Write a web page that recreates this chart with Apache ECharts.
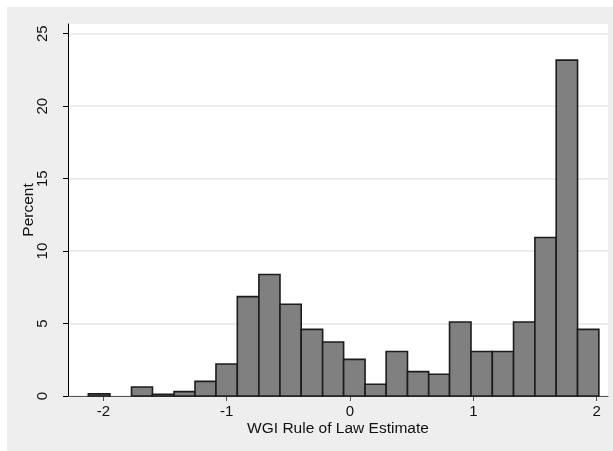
<!DOCTYPE html>
<html>
<head>
<meta charset="utf-8">
<script src="https://cdn.jsdelivr.net/npm/echarts@6/dist/echarts.min.js"></script>
<style>
    html, body { margin: 0; padding: 0; background: #fff; }
    #wrap { position: relative; width: 613px; height: 451px; }
    #panel { position: absolute; left: 7px; top: 7px; width: 606px; height: 444px; background: #eeeeee; }
    #chart { position: absolute; left: 0; top: 0; width: 613px; height: 451px; }
</style>
</head>
<body>
<div id="wrap">
    <div id="panel"></div>
    <div id="chart"></div>
</div>
<script>
    // bin edges (24 bins)
    const binEdges = [-2.122, -1.947, -1.772, -1.602, -1.427, -1.257, -1.087, -0.914, -0.739, -0.568, -0.396, -0.222,
        -0.052, 0.122, 0.293, 0.466, 0.638, 0.807, 0.981, 1.154, 1.326, 1.499, 1.672, 1.845, 2.018];
    const percents = [0.15, 0, 0.62, 0.12, 0.3, 1.01, 2.21, 6.86, 8.38, 6.33, 4.6, 3.73,
        2.53, 0.81, 3.07, 1.68, 1.5, 5.11, 3.07, 3.07, 5.11, 10.94, 23.18, 4.6];
    const xTicks = [-2, -1, 0, 1, 2];
    const yTicks = [0, 5, 10, 15, 20, 25];

    const bins = percents.map((p, i) => [binEdges[i], binEdges[i + 1], p]);

    const font = '"Liberation Sans", Arial, Helvetica, sans-serif';
    const chart = echarts.init(document.getElementById('chart'));

    chart.setOption({
        animation: false,
        grid: {
            left: 68, right: 5, top: 24, bottom: 55,
            show: true, backgroundColor: '#ffffff', borderWidth: 0
        },
        xAxis: {
            type: 'value',
            min: -2.287,
            max: 2.092,
            name: 'WGI Rule of Law Estimate',
            nameLocation: 'middle',
            nameGap: 25,
            nameMoveOverlap: false,
            nameTextStyle: { fontFamily: font, fontSize: 15.5, color: '#111' },
            axisLine: { onZero: false, lineStyle: { color: '#555', width: 1 } },
            axisTick: { length: 5, customValues: xTicks, lineStyle: { color: '#555' } },
            axisLabel: { customValues: xTicks, margin: 8, fontFamily: font, fontSize: 15, color: '#111' },
            splitLine: { show: false }
        },
        yAxis: {
            type: 'value',
            min: 0,
            max: 25.67,
            name: 'Percent',
            nameLocation: 'middle',
            nameGap: 31,
            nameMoveOverlap: false,
            nameTextStyle: { fontFamily: font, fontSize: 15.5, color: '#111' },
            axisLine: { show: true, onZero: false, lineStyle: { color: '#000', width: 1 } },
            axisTick: { show: true, length: 5, customValues: yTicks, lineStyle: { color: '#000' } },
            axisLabel: { customValues: yTicks, rotate: 90, margin: 18, fontFamily: font, fontSize: 15, color: '#111' },
            splitLine: { show: true, lineStyle: { color: '#e6e6e6', width: 1.5 } }
        },
        series: [{
            type: 'custom',
            data: bins,
            encode: { x: [0, 1], y: 2 },
            renderItem: function (params, api) {
                if (api.value(2) <= 0) return;
                const p0 = api.coord([api.value(0), api.value(2)]);
                const p1 = api.coord([api.value(1), 0]);
                return {
                    type: 'rect',
                    shape: { x: p0[0], y: p0[1], width: p1[0] - p0[0], height: p1[1] - p0[1] },
                    style: { fill: '#808080', stroke: '#1c1c1c', lineWidth: 1.6 }
                };
            }
        }]
    });
</script>
</body>
</html>
